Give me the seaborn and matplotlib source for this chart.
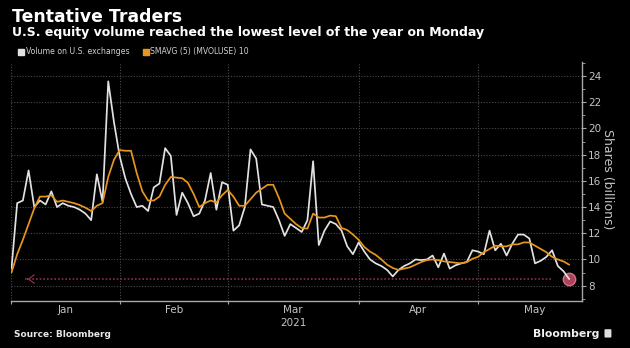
import matplotlib
matplotlib.use("Agg")
import matplotlib.pyplot as plt
from matplotlib.lines import Line2D
from matplotlib.patches import FancyBboxPatch
from matplotlib.ticker import FixedLocator, MultipleLocator
import numpy as np
import pandas as pd
import seaborn as sns

# Daily U.S. exchange volume (billions of shares), one value per trading day from Jan 4, 2021
volume = [
    9.3, 14.3, 14.5, 16.8, 14.0, 14.5, 14.2, 15.2, 14.0, 14.3,
    14.1, 14.0, 13.8, 13.5, 13.0, 16.5, 14.4, 23.6, 20.5, 17.9,
    16.2, 15.0, 14.0, 14.1, 13.7, 15.5, 15.8, 18.5, 17.9, 13.4,
    15.1, 14.3, 13.3, 13.5, 14.5, 16.6, 13.8, 15.9, 15.7, 12.2,
    12.6, 14.0, 18.4, 17.7, 14.2, 14.1, 14.0, 13.0, 11.8, 12.7,
    12.4, 12.1, 13.0, 17.5, 11.1, 12.2, 12.9, 12.7, 12.2, 11.0,
    10.4, 11.3, 10.6, 10.0, 9.7, 9.5, 9.2, 8.7, 9.2, 9.5,
    9.7, 10.0, 9.95, 10.0, 10.3, 9.4, 10.45, 9.3, 9.55, 9.7,
    9.8, 10.7, 10.6, 10.4, 12.2, 10.7, 11.2, 10.3, 11.2, 11.9,
    11.9, 11.6, 9.7, 9.9, 10.2, 10.7, 9.5, 9.1, 8.5,
]

# SMAVG (5) of the same volume series
smavg = [
    9.0, 10.4, 11.5, 12.7, 13.9, 14.8, 14.8, 14.9, 14.4, 14.5,
    14.4, 14.3, 14.15, 13.95, 13.7, 14.1, 14.3, 16.3, 17.6, 18.35,
    18.3, 18.3, 16.6, 15.2, 14.5, 14.5, 14.8, 15.7, 16.3, 16.25,
    16.2, 15.85, 15.0, 14.0, 14.3, 14.5, 14.35, 14.9, 15.3, 14.8,
    14.1, 14.1, 14.6, 15.1, 15.4, 15.7, 15.7, 14.7, 13.5, 13.1,
    12.7, 12.4, 12.35, 13.5, 13.2, 13.2, 13.35, 13.3, 12.4, 12.25,
    11.9, 11.5, 10.95, 10.6, 10.35, 10.0, 9.6, 9.35, 9.2, 9.3,
    9.4, 9.6, 9.8, 9.95, 10.0, 9.95, 9.85, 9.8, 9.75, 9.7,
    9.8, 10.05, 10.2, 10.55, 10.8, 11.05, 11.0, 11.0, 11.15, 11.15,
    11.3, 11.3, 11.05, 10.8, 10.55, 10.2, 10.0, 9.85, 9.6,
]

# Trading-day index of the first session of each month, and month labels
month_starts = [0, 19, 38, 61, 82]
month_ends = [19, 38, 61, 82, 102]
month_labels = ["Jan", "Feb", "Mar\n2021", "Apr", "May"]
y_ticks = [8, 10, 12, 14, 16, 18, 20, 22, 24]

series_names = ["Volume on U.S. exchanges", "SMAVG (5) (MVOLUSE) 10"]
colors = {"Volume on U.S. exchanges": "#e2e2e2", "SMAVG (5) (MVOLUSE) 10": "#e8961e"}

day = np.arange(len(volume))
df = pd.concat([
    pd.DataFrame({"day": day, "value": volume, "series": series_names[0]}),
    pd.DataFrame({"day": day, "value": smavg, "series": series_names[1]}),
])

sns.set_theme(style="dark", rc={
    "axes.facecolor": "black",
    "figure.facecolor": "black",
    "savefig.facecolor": "black",
})
plt.rcParams["font.family"] = ["DejaVu Sans"]

fig = plt.figure(figsize=(6.3, 3.48), dpi=100)
ax = fig.add_axes([0.01825, 0.1359, 0.9051, 0.6868])
ax.set_facecolor("black")

# grid
grid_kw = dict(color="#4a4a4a", lw=0.8, ls=(0, (1, 1.5)), zorder=0)
for y in y_ticks:
    ax.axhline(y, **grid_kw)
for x in month_starts:
    ax.axvline(x, **grid_kw)

# lowest-level marker line with an arrow pointing back in time
low_level = min(volume)
ax.plot([2.4, 94.9], [low_level, low_level], color="#8a2f45", lw=1.2,
        ls=(0, (1, 1.2)), zorder=1)
ax.annotate("", xy=(2.3, low_level), xytext=(3.3, low_level),
            arrowprops=dict(arrowstyle="->,head_length=0.35,head_width=0.25",
                            color="#8a2f45", lw=0.9), zorder=1)

# highlight of the latest reading
ax.scatter([day[-1]], [volume[-1]], s=80, color="#c24a66", edgecolor="#e07890",
           linewidth=1.0, alpha=0.9, zorder=2)

sns.lineplot(data=df, x="day", y="value", hue="series", palette=colors,
             linewidth=1.25, legend=False, ax=ax, zorder=3)

ax.set_xlim(0, 100.2)
ax.set_ylim(6.85, 25.1)

# spines
for s in ["top", "left"]:
    ax.spines[s].set_visible(False)
for s in ["right", "bottom"]:
    ax.spines[s].set_visible(True)
    ax.spines[s].set_color("#a8a8a8")
    ax.spines[s].set_linewidth(1.0)

# right y axis
ax.yaxis.tick_right()
ax.yaxis.set_major_locator(FixedLocator(y_ticks))
ax.yaxis.set_minor_locator(MultipleLocator(1))
ax.tick_params(axis="y", which="major", right=True, left=False, length=3,
               width=0.8, color="#a8a8a8", pad=1.5, labelsize=7.5,
               labelcolor="#c4c4c4", direction="out")
ax.tick_params(axis="y", which="minor", right=True, left=False, length=2,
               width=0.6, color="#a8a8a8", direction="out")
ax.yaxis.set_label_position("right")
ax.set_ylabel("Shares (billions)", rotation=270, fontsize=9, color="#c4c4c4",
              va="center", ha="center")
ax.yaxis.set_label_coords(1.045, 0.51)

# x axis: tick marks at month boundaries, labels centred on each month
ax.xaxis.set_major_locator(FixedLocator(month_starts))
ax.xaxis.set_major_formatter(plt.NullFormatter())
mids = [(a + b) / 2 for a, b in zip(month_starts, month_ends)]
ax.xaxis.set_minor_locator(FixedLocator(mids))
ax.set_xticks(mids, month_labels, minor=True)
ax.tick_params(axis="x", which="major", bottom=True, length=2.5, width=0.8,
               color="#a8a8a8", direction="out")
ax.tick_params(axis="x", which="minor", bottom=True, length=0, pad=3,
               labelsize=7.5, labelcolor="#c4c4c4")
for lbl in ax.get_xticklabels(minor=True):
    lbl.set_linespacing(1.35)
ax.set_xlabel("")

# legend
handles = [Line2D([], [], marker="s", ls="", markersize=4.5,
                  color=colors[name], label=name) for name in series_names]
fig.legend(handles=handles, loc="center left", bbox_to_anchor=(0.027, 0.851),
           ncol=2, frameon=False, fontsize=5.6, labelcolor="#d0d0d0",
           handletextpad=0.1, columnspacing=1.6, handlelength=1.0,
           borderaxespad=0, borderpad=0)

# titles and footer
fig.text(0.019, 0.9376, "Tentative Traders", fontsize=12.4, fontweight="bold",
         color="white", va="baseline", ha="left")
fig.text(0.019, 0.8974, "U.S. equity volume reached the lowest level of the year on Monday",
         fontsize=9, fontweight="bold", color="white", va="baseline", ha="left")
fig.text(0.023, 0.031, "Source: Bloomberg", fontsize=6.5, fontweight="bold",
         color="#e8e8e8", va="baseline", ha="left")
fig.text(0.951, 0.031, "Bloomberg", fontsize=7.8, fontweight="bold",
         color="#f0f0f0", va="baseline", ha="right")
fig.patches.append(FancyBboxPatch((0.9595, 0.030), 0.011, 0.024,
                                  boxstyle="round,pad=0,rounding_size=0.002",
                                  transform=fig.transFigure, facecolor="#e0e0e0",
                                  edgecolor="none"))

fig.savefig("out.png", dpi=100, facecolor="black")
